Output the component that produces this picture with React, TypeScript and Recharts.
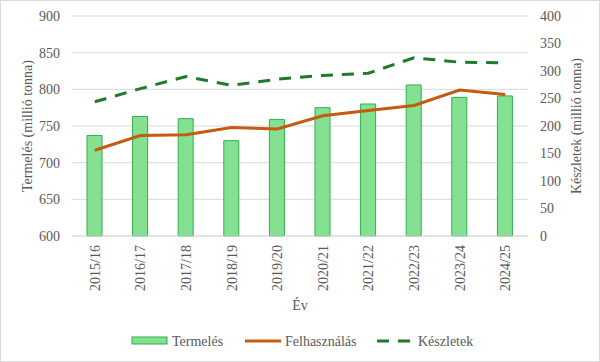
import React from 'react';
import { ComposedChart, Bar, Line, XAxis, YAxis, CartesianGrid, Legend } from 'recharts';

const categories = ['2015/16', '2016/17', '2017/18', '2018/19', '2019/20', '2020/21', '2021/22', '2022/23', '2023/24', '2024/25'];
const termeles = [737, 763, 760, 730, 759, 775, 780, 806, 789, 791];
const felhasznalas = [717, 737, 738, 748, 746, 764, 771, 778, 799, 793];
const keszletek = [244, 268, 290, 274, 285, 292, 296, 324, 316, 315];
const leftTicks = [600, 650, 700, 750, 800, 850, 900];
const rightTicks = [0, 50, 100, 150, 200, 250, 300, 350, 400];

const data = categories.map((c, i) => ({
  name: c,
  termeles: termeles[i],
  felhasznalas: felhasznalas[i],
  keszletek: keszletek[i],
}));

const FONT = "'Liberation Serif', serif";
const TXT = '#595959';
const ts: React.CSSProperties = { fontFamily: FONT, fontSize: 14, fill: TXT };

const XTick = (props: any) => {
  const { x, y, payload } = props;
  return (
    <g transform={`translate(${x},${y})`}>
      <text x={0} y={0} dy="0.35em" textAnchor="end" transform="rotate(-90)" style={ts}>
        {payload.value}
      </text>
    </g>
  );
};

const YTick = (props: any) => {
  const { x, y, payload, anchor } = props;
  return (
    <text x={x} y={y} dy="0.35em" textAnchor={anchor} style={ts}>
      {payload.value}
    </text>
  );
};

const LegendContent = () => (
  <svg width={600} height={36} style={{ display: 'block' }}>
    <rect x={132} y={11} width={35} height={7} fill="#85E091" stroke="#2BB24C" strokeWidth={1} />
    <text x={172} y={15} dy="0.35em" style={ts}>Termelés</text>
    <line x1={245} x2={281} y1={15} y2={15} stroke="#C55A11" strokeWidth={3} />
    <text x={285} y={15} dy="0.35em" style={ts}>Felhasználás</text>
    <line x1={377} x2={411} y1={15} y2={15} stroke="#1F7A2A" strokeWidth={3} strokeDasharray="12 9" />
    <text x={418} y={15} dy="0.35em" style={ts}>Készletek</text>
  </svg>
);

export default function App() {
  return (
    <div style={{ position: 'absolute', left: 0, top: 0, width: 600, height: 362, boxSizing: 'border-box', border: '1px solid #d9d9d9', background: '#fff', fontFamily: FONT }}>
      <div style={{ position: 'absolute', left: -1, top: -1 }}>
        <ComposedChart width={600} height={362} data={data} margin={{ top: 16, right: 0, bottom: 0, left: 0 }}>
          <CartesianGrid vertical={false} stroke="#D9D9D9" yAxisId="left" />
          <XAxis
            dataKey="name"
            height={90}
            tick={<XTick />}
            tickLine={false}
            axisLine={{ stroke: '#D9D9D9' }}
            interval={0}
            tickSize={0}
            tickMargin={9}
            label={(p: any) => {
              const vb = p.viewBox;
              return (
                <text x={vb.x + vb.width / 2} y={305} dy="0.35em" textAnchor="middle" style={ts}>Év</text>
              );
            }}
          />
          <YAxis
            yAxisId="left"
            orientation="left"
            width={72}
            domain={[600, 900]}
            ticks={leftTicks}
            tickLine={false}
            axisLine={false}
            tickSize={0}
            tickMargin={12}
            tick={<YTick anchor="end" />}
            label={(p: any) => (
              <text x={27} y={126} dy="0.35em" textAnchor="middle" transform="rotate(-90, 27, 126)" style={ts}>
                Termelés (millió tonna)
              </text>
            )}
          />
          <YAxis
            yAxisId="right"
            orientation="right"
            width={72}
            domain={[0, 400]}
            ticks={rightTicks}
            tickLine={false}
            axisLine={false}
            tickSize={0}
            tickMargin={12}
            tick={<YTick anchor="start" />}
            label={(p: any) => (
              <text x={576} y={126} dy="0.35em" textAnchor="middle" transform="rotate(-90, 576, 126)" style={ts}>
                Készletek (millió tonna)
              </text>
            )}
          />
          <Bar yAxisId="left" dataKey="termeles" name="Termelés" barSize={15} fill="#85E091" stroke="#2BB24C" strokeWidth={1} isAnimationActive={false} />
          <Line yAxisId="left" type="linear" dataKey="felhasznalas" name="Felhasználás" stroke="#C55A11" strokeWidth={3} dot={false} isAnimationActive={false} />
          <Line yAxisId="right" type="linear" dataKey="keszletek" name="Készletek" stroke="#1F7A2A" strokeWidth={3} strokeDasharray="12 9" dot={false} isAnimationActive={false} />
          <Legend verticalAlign="bottom" height={36} content={<LegendContent />} wrapperStyle={{ left: 0, width: 600 }} />
        </ComposedChart>
      </div>
    </div>
  );
}
